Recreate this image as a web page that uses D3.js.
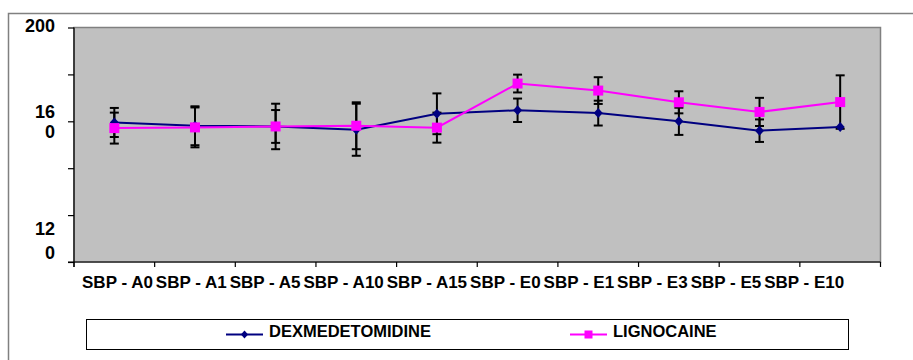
<!DOCTYPE html>
<html><head><meta charset="utf-8">
<script src="https://cdn.jsdelivr.net/npm/d3@7"></script>
<style>
html,body{margin:0;padding:0;background:#fff;}
svg{display:block;font-family:"Liberation Sans",Arial,sans-serif;font-weight:bold;}
</style></head>
<body><svg id="chart" width="913" height="360"></svg>
<script>
const categories = ["SBP - A0","SBP - A1","SBP - A5","SBP - A10","SBP - A15","SBP - E0","SBP - E1","SBP - E3","SBP - E5","SBP - E10"];
const dexValues = [159.5,158.1,157.8,156.4,163.2,164.7,163.5,160.0,156.0,157.6];
const dexErrors = [6.2,8.3,9.7,11.1,8.7,5.0,5.3,5.8,4.8,0];
const ligValues = [157.1,157.4,157.8,158.1,157.3,176.1,173.1,168.1,164.0,168.2];
const ligErrors = [6.6,8.5,7.0,10.0,6.4,3.8,5.7,4.7,6.0,11.4];
const yTicks = [100,120,140,160,180,200];
const yLabelValues = [120,160,200];
const yLabelLines = [["12","0"],["16","0"],["200"]];
const seriesNames = ["DEXMEDETOMIDINE","LIGNOCAINE"];

const svg = d3.select("#chart");
const L = 74, R = 880.5, T = 27.5, B = 262;

// outer frame
svg.append("path").attr("d","M8.5,360 V13.5 H913").attr("fill","none").attr("stroke","#808080").attr("stroke-width",1.5);

const x = d3.scaleBand().domain(categories).range([L,R]).padding(0);
const y = d3.scaleLinear().domain([100,200]).range([B,T]);
const cx = d => x(d) + x.bandwidth()/2;

// plot area
svg.append("rect").attr("x",L).attr("y",T).attr("width",R-L).attr("height",B-T)
  .attr("fill","#C0C0C0").attr("stroke","#808080").attr("stroke-width",1.5);

// y axis
const yAxis = d3.axisLeft(y).tickValues(yTicks).tickSize(6).tickFormat("");
const yg = svg.append("g").attr("transform",`translate(${L},0)`).call(yAxis);
yg.select(".domain").attr("stroke","#000").attr("stroke-width",1.2).attr("d",`M0,${T}V${B+5}`);
yg.selectAll(".tick line").attr("stroke","#000").attr("stroke-width",1.2);
const labelShift = {120:[19.5,43.5],160:[-3,16.5],200:[4.5]};
yLabelValues.forEach((v,i)=>{
  const t = svg.append("text").attr("text-anchor","end").attr("font-size",18).attr("fill","#000");
  yLabelLines[i].forEach((ln,j)=>{
    t.append("tspan").attr("x",55).attr("y",y(v)+labelShift[v][j]).text(ln);
  });
});

// x axis
const xg = svg.append("g").attr("transform",`translate(0,${B})`)
  .call(d3.axisBottom(x).tickSize(0).tickPadding(0));
xg.select(".domain").remove();
svg.append("line").attr("x1",L-6).attr("x2",R).attr("y1",B).attr("y2",B).attr("stroke","#000").attr("stroke-width",1.2);
const bounds = categories.map(c=>x(c)).concat([R]);
svg.append("g").selectAll("line").data(bounds).join("line")
  .attr("x1",d=>d).attr("x2",d=>d).attr("y1",B).attr("y2",B+5).attr("stroke","#000").attr("stroke-width",1.2);
// lay out category labels as flowing text (as in the reference)
const texts = xg.selectAll(".tick text").attr("font-size",17).attr("fill","#000")
  .attr("font-family","Liberation Sans, Arial, sans-serif").attr("font-weight","bold");
const widths = texts.nodes().map(n=>n.getComputedTextLength());
const startX = L + 8, endX = cx(categories[categories.length-1]) + 4;
const gap = (endX - startX - d3.sum(widths)) / (categories.length-1);
let cur = startX;
texts.each(function(d,i){
  const tickX = cx(d);
  d3.select(this).attr("text-anchor","start").attr("dy",null).attr("y",26).attr("x",cur - tickX);
  cur += widths[i] + gap;
});

// series
const line = d3.line().x((d,i)=>cx(categories[i])).y(d=>y(d));
const series = [
  {vals:dexValues, errs:dexErrors, color:"#000080", marker:"diamond"},
  {vals:ligValues, errs:ligErrors, color:"#FF00FF", marker:"square"}
];
series.forEach(s=>{
  svg.append("path").attr("d",line(s.vals)).attr("fill","none").attr("stroke",s.color).attr("stroke-width",2);
});
series.forEach(s=>{
  const g = svg.append("g").attr("stroke","#000").attr("stroke-width",2);
  s.vals.forEach((v,i)=>{
    const e = s.errs[i]; if(!e) return;
    const xx = cx(categories[i]);
    g.append("line").attr("x1",xx).attr("x2",xx).attr("y1",y(v+e)).attr("y2",y(v-e));
    g.append("line").attr("x1",xx-4.5).attr("x2",xx+4.5).attr("y1",y(v+e)).attr("y2",y(v+e));
    g.append("line").attr("x1",xx-4.5).attr("x2",xx+4.5).attr("y1",y(v-e)).attr("y2",y(v-e));
  });
});
function drawMarker(g,type,xx,yy,color,sz){
  if(type==="diamond"){
    g.append("path").attr("d",`M${xx},${yy-sz} L${xx+sz*0.9},${yy} L${xx},${yy+sz} L${xx-sz*0.9},${yy} Z`).attr("fill",color);
  } else {
    g.append("rect").attr("x",xx-sz).attr("y",yy-sz).attr("width",2*sz).attr("height",2*sz).attr("fill",color);
  }
}
series.forEach(s=>{
  const g = svg.append("g");
  s.vals.forEach((v,i)=>drawMarker(g,s.marker,cx(categories[i]),y(v),s.color,s.marker==="diamond"?5:5));
});

// legend
svg.append("rect").attr("x",86.5).attr("y",319.5).attr("width",762).attr("height",30)
  .attr("fill","#fff").attr("stroke","#000").attr("stroke-width",1);
const legItems = [{x1:226,x2:263,tx:269},{x1:570,x2:607,tx:613}];
series.forEach((s,i)=>{
  const it = legItems[i];
  const ly = 334.5;
  const g = svg.append("g");
  g.append("line").attr("x1",it.x1).attr("x2",it.x2).attr("y1",ly).attr("y2",ly).attr("stroke",s.color).attr("stroke-width",2);
  drawMarker(g,s.marker,(it.x1+it.x2)/2,ly,s.color,s.marker==="diamond"?4:4);
  g.append("text").attr("x",it.tx).attr("y",337).attr("font-size",16.5).attr("fill","#000").text(seriesNames[i]);
});
</script></body></html>
